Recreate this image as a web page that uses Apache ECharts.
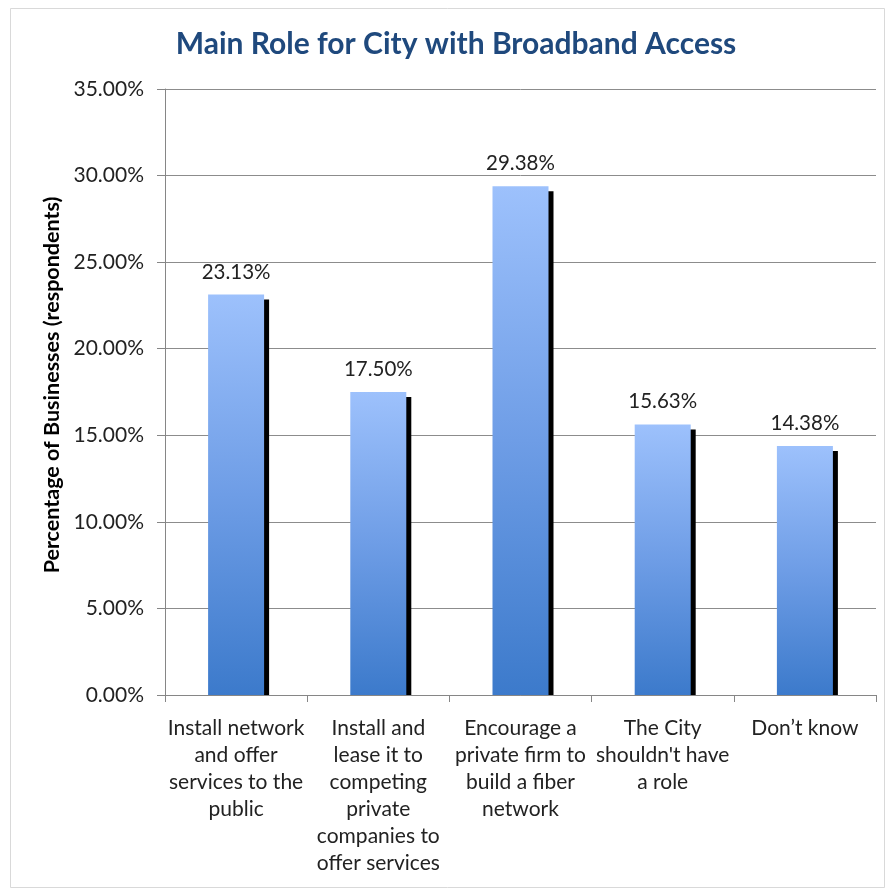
<!DOCTYPE html>
<html>
<head>
<meta charset="utf-8">
<script src="https://cdn.jsdelivr.net/npm/echarts@6/dist/echarts.min.js"></script>
<style>
html,body{margin:0;padding:0;background:#fff;}
#chart{width:889px;height:890px;}
</style>
</head>
<body>
<div id="chart"></div>
<script>
const title = 'Main Role for City with Broadband Access';
const yAxisTitle = 'Percentage of Businesses (respondents)';
const categories = [
  'Install network\nand offer\nservices to the\npublic',
  'Install and\nlease it to\ncompeting\nprivate\ncompanies to\noffer services',
  'Encourage a\nprivate firm to\nbuild a fiber\nnetwork',
  'The City\nshouldn\'t have\na role',
  'Don\u2019t know'
];
const values = [23.13, 17.50, 29.38, 15.63, 14.38];
const yMin = 0, yMax = 35, yStep = 5;

const FONT = 'Lato';
const BAR_W = 56;
const chart = echarts.init(document.getElementById('chart'), null, {renderer: 'canvas'});

chart.setOption({
  backgroundColor: '#fff',
  animation: false,
  graphic: [{
    type: 'rect', left: 8, top: 6, z: -10,
    shape: {width: 874, height: 879},
    style: {fill: 'none', stroke: '#d9d9d9', lineWidth: 1}
  }],
  title: {
    text: title, left: 451, top: 24, textAlign: 'center',
    textStyle: {fontFamily: FONT, fontWeight: 'bold', fontSize: 30, color: '#1F497D'}
  },
  grid: {left: 165, right: 13, top: 89, bottom: 195, containLabel: false},
  xAxis: {
    type: 'category', data: categories,
    axisLine: {show: true, lineStyle: {color: '#868686', width: 1}},
    axisTick: {show: true, alignWithLabel: false, length: 7, lineStyle: {color: '#868686'}},
    axisLabel: {interval: 0, margin: 20, fontFamily: FONT, fontSize: 21, lineHeight: 27, color: '#222', align: 'center'}
  },
  yAxis: {
    type: 'value', min: yMin, max: yMax, interval: yStep,
    name: yAxisTitle, nameLocation: 'middle', nameGap: 100, nameRotate: 90,
    nameTextStyle: {fontFamily: FONT, fontWeight: 'bold', fontSize: 21.5, color: '#000', padding: [0, 0, 0, 14]},
    axisLine: {show: true, lineStyle: {color: '#868686'}},
    axisTick: {show: true, length: 8, lineStyle: {color: '#868686'}},
    axisLabel: {margin: 21, fontFamily: FONT, fontSize: 21, color: '#222', formatter: v => v.toFixed(2) + '%'},
    splitLine: {show: true, lineStyle: {color: '#8c8c8c', width: 1}}
  },
  series: [
    {
      type: 'custom', z: 1, silent: true,
      data: values.map((v, i) => [i, v]),
      renderItem: function (params, api) {
        const top = api.coord([api.value(0), api.value(1)]);
        const base = api.coord([api.value(0), 0]);
        return {
          type: 'rect',
          shape: {x: top[0] - BAR_W / 2 + 5, y: top[1] + 5, width: BAR_W, height: base[1] - top[1] - 5},
          style: {fill: '#000'}
        };
      }
    },
    {
      type: 'bar', z: 2, barWidth: BAR_W, data: values,
      itemStyle: {
        color: new echarts.graphic.LinearGradient(0, 0, 0, 1, [
          {offset: 0, color: '#9DC1FC'},
          {offset: 0.5, color: '#6E9DE6'},
          {offset: 1, color: '#3C7ACB'}
        ])
      },
      label: {
        show: true, position: 'top', distance: 12,
        fontFamily: FONT, fontSize: 20.5, color: '#222',
        formatter: p => p.value.toFixed(2) + '%'
      }
    }
  ]
});
</script>
</body>
</html>
